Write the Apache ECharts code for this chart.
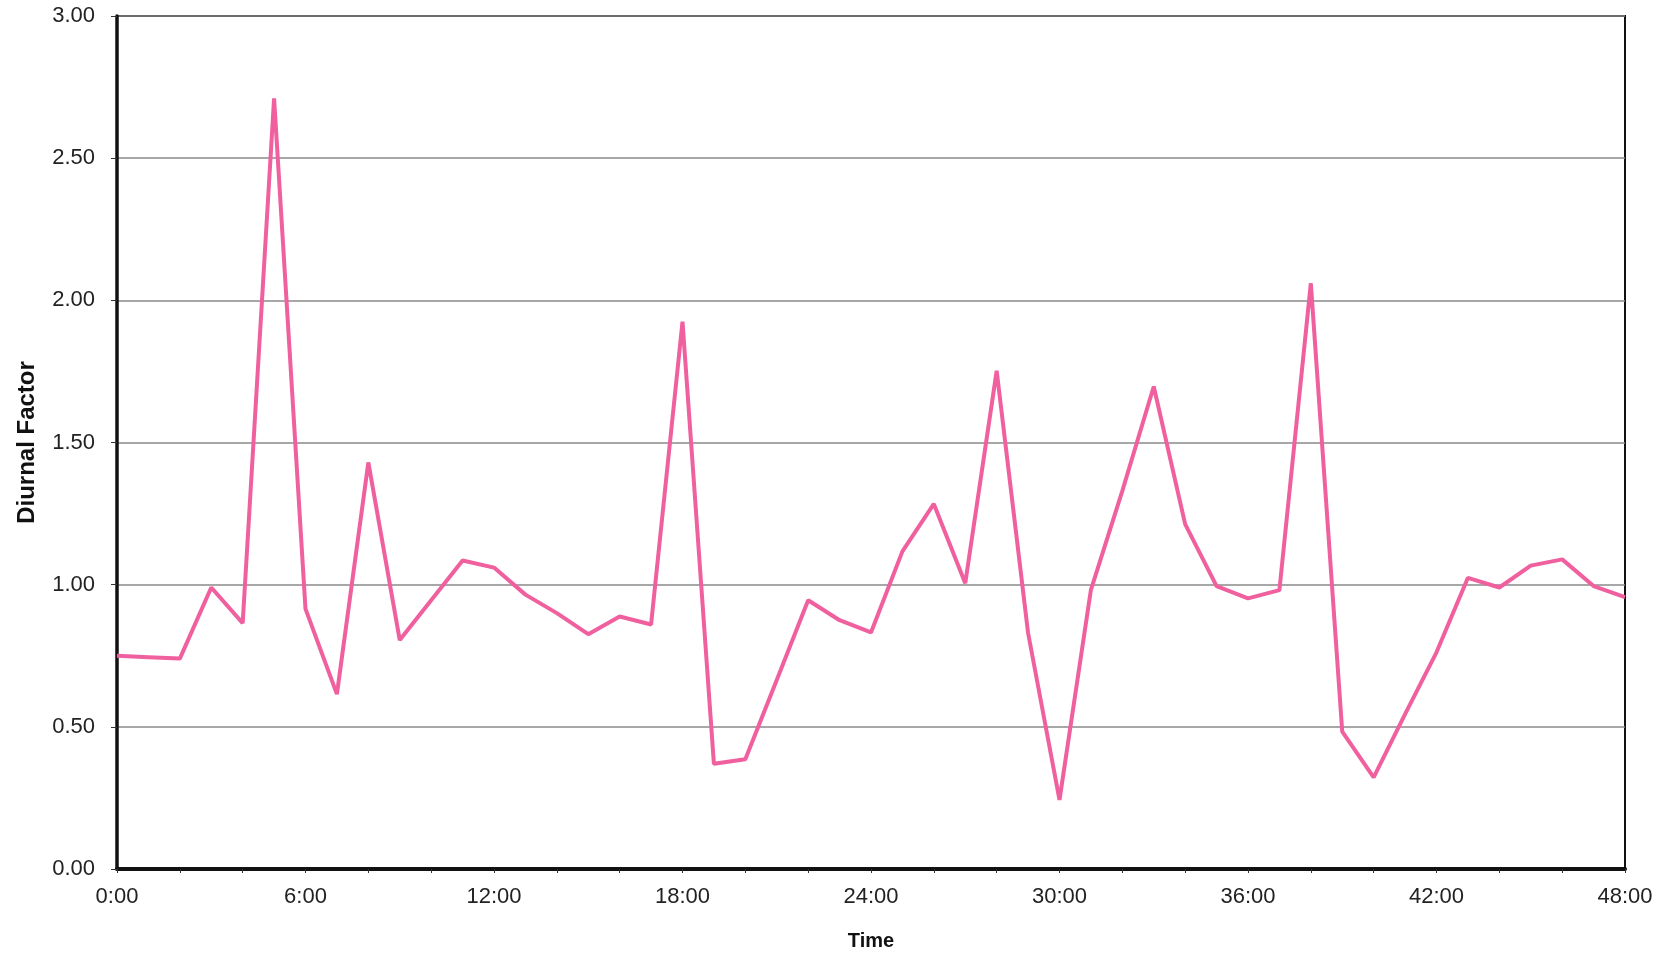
<!DOCTYPE html>
<html>
<head>
<meta charset="utf-8">
<script src="https://cdn.jsdelivr.net/npm/echarts@6/dist/echarts.min.js"></script>
<style>
  html, body { margin: 0; padding: 0; background: #fff; }
  #chart { width: 1671px; height: 954px; }
</style>
</head>
<body>
<div id="chart"></div>
<script>
const hours = [0,1,2,3,4,5,6,7,8,9,10,11,12,13,14,15,16,17,18,19,20,21,22,23,24,25,26,27,28,29,30,31,32,33,34,35,36,37,38,39,40,41,42,43,44,45,46,47,48];
const diurnalFactor = [0.75,0.745,0.74,0.99,0.865,2.71,0.915,0.615,1.43,0.805,0.945,1.085,1.06,0.965,0.90,0.826,0.888,0.86,1.925,0.37,0.386,0.665,0.945,0.875,0.832,1.117,1.284,1.005,1.752,0.83,0.243,0.982,1.33,1.697,1.213,0.995,0.952,0.981,2.06,0.483,0.322,0.545,0.762,1.024,0.99,1.067,1.089,0.995,0.956];
const xTickLabels = ['0:00','6:00','12:00','18:00','24:00','30:00','36:00','42:00','48:00'];
const yTickLabels = ['0.00','0.50','1.00','1.50','2.00','2.50','3.00'];

const chart = echarts.init(document.getElementById('chart'), null, { renderer: 'canvas' });
const font = '"Liberation Sans", Arial, sans-serif';
chart.setOption({
  animation: false,
  backgroundColor: '#ffffff',
  grid: {
    left: 117, right: 46, top: 16, bottom: 85,
    outerBoundsMode: 'none', containLabel: false,
    show: true, borderColor: '#111', borderWidth: 2, backgroundColor: 'transparent'
  },
  xAxis: {
    type: 'value', min: 0, max: 48, interval: 6,
    name: 'Time', nameLocation: 'middle', nameGap: 62,
    nameTextStyle: { fontFamily: font, fontWeight: 'bold', fontSize: 20, color: '#111' },
    axisLine: { show: true, onZero: false, lineStyle: { color: '#111', width: 4 } },
    axisTick: { show: true, length: 4, lineStyle: { color: '#333', width: 1 } },
    minorTick: { show: true, splitNumber: 3, length: 4, lineStyle: { color: '#333', width: 1 } },
    splitLine: { show: false },
    axisLabel: {
      margin: 17, fontFamily: font, fontSize: 22, color: '#222',
      formatter: v => xTickLabels[Math.round(v / 6)]
    }
  },
  yAxis: {
    type: 'value', min: 0, max: 3, interval: 0.5,
    name: 'Diurnal Factor', nameLocation: 'middle', nameGap: 78, nameRotate: 90,
    nameTextStyle: { fontFamily: font, fontWeight: 'bold', fontSize: 24, color: '#111' },
    axisLine: { show: true, lineStyle: { color: '#111', width: 3.5 } },
    axisTick: { show: true, length: 6, lineStyle: { color: '#333', width: 1 } },
    splitLine: { show: true, lineStyle: { color: '#8a8a8a', width: 1.5 } },
    axisLabel: {
      margin: 22, fontFamily: font, fontSize: 22, color: '#222',
      formatter: v => yTickLabels[Math.round(v / 0.5)]
    }
  },
  series: [{
    type: 'line',
    data: hours.map((h, i) => [h, diurnalFactor[i]]),
    showSymbol: false,
    lineStyle: { color: '#F0609E', width: 4 },
    z: 3
  }]
});
</script>
</body>
</html>
